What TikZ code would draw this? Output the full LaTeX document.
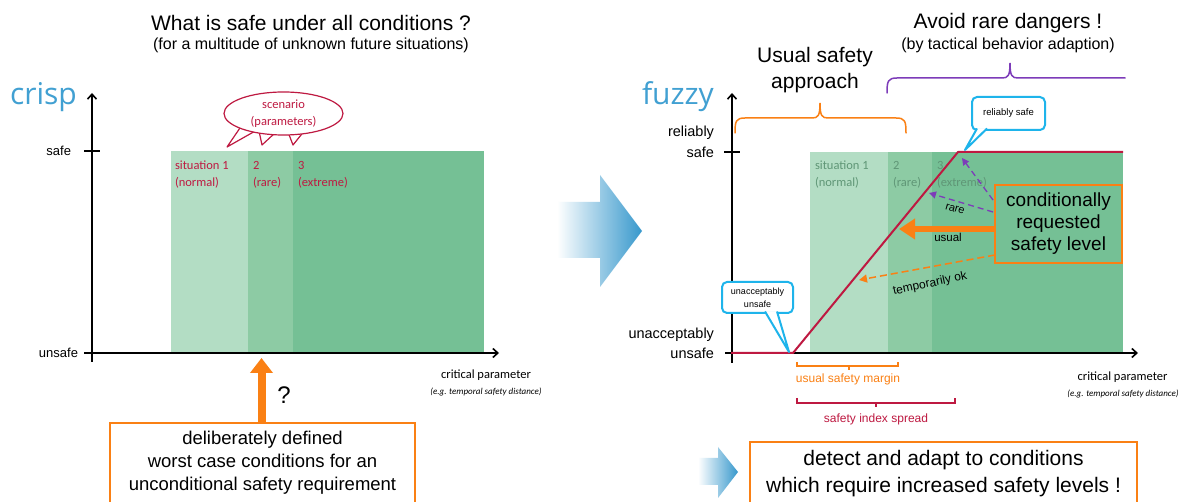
\documentclass[tikz,border=0pt]{standalone}
\usepackage{fontspec}
\setmainfont{Liberation Sans}
\newfontfamily\carlito{Carlito}
\newfontfamily\opensans{Open Sans}
\usetikzlibrary{arrows.meta,shapes.geometric}
\definecolor{lgreen}{RGB}{179,221,196}
\definecolor{mgreen}{RGB}{141,203,164}
\definecolor{dgreen}{RGB}{117,192,149}
\definecolor{crim}{RGB}{190,25,65}
\definecolor{org}{RGB}{250,128,20}
\definecolor{cyanb}{RGB}{30,180,235}
\definecolor{purp}{RGB}{125,60,185}
\definecolor{titleblue}{RGB}{65,160,210}
\definecolor{arrowblue}{RGB}{55,152,204}
\definecolor{gtext}{RGB}{95,150,118}
\tikzset{
  every node/.style={inner sep=0pt, outer sep=0pt},
  sitlab/.style={font=\carlito\fontsize{12.5}{14}\selectfont, anchor=west},
  ylab/.style={font=\fontsize{13}{15}\selectfont, anchor=east},
  ylabr/.style={font=\fontsize{14.5}{17}\selectfont, anchor=east},
  axisline/.style={line width=1.6, -{Straight Barb[length=5pt,width=9pt]}},
  tickline/.style={line width=1.6},
  bigtitle/.style={font=\fontsize{21}{25}\selectfont},
  subtitle/.style={font=\fontsize{16}{19}\selectfont},
  cpar/.style={font=\carlito\fontsize{12.5}{14}\selectfont},
  cparsub/.style={font=\carlito\itshape\fontsize{9}{11}\selectfont},
  callout/.style={draw=cyanb, line width=2, fill=white, rounded corners=5pt, align=center},
  tipline/.style={draw=cyanb, line width=2, fill=white, line join=round},
  purpdash/.style={purp, line width=1.3, dash pattern=on 6pt off 4pt, -{Triangle[length=7pt,width=7pt]}},
  orgdash/.style={org, line width=1.5, dash pattern=on 7pt off 4pt, -{Triangle[length=8pt,width=8pt]}},
  thickorg/.style={org, line width=6, -{Triangle[length=16pt,width=20pt]}},
  orgbox/.style={draw=org, line width=2.8, align=center},
  bracefrm/.style={line width=1.5, line cap=round},
}
\begin{document}
\begin{tikzpicture}[x=1pt,y=-1pt]
\useasboundingbox (0,0) rectangle (1184,502);
\fill[white] (0,0) rectangle (1184,502);

% ===================== LEFT PANEL =====================
\node[bigtitle] (t1) at (311,23) {What is safe under all conditions ?};
\node[subtitle] (t1s) at (311,45) {(for a multitude of unknown future situations)};

\node[font=\opensans\fontsize{30}{30}\selectfont, text=titleblue, anchor=base west] (crisp) at (10,105) {crisp};

\fill[lgreen] (171,151) rectangle (248,353);
\fill[mgreen] (248,151) rectangle (293,353);
\fill[dgreen] (293,151) rectangle (484,353);

\node[sitlab, text=crim] (ls1) at (175,165) {situation 1};
\node[sitlab, text=crim] (ls1b) at (175,183) {(normal)};
\node[sitlab, text=crim] (ls2) at (253,165) {2};
\node[sitlab, text=crim] (ls2b) at (253,183) {(rare)};
\node[sitlab, text=crim] (ls3) at (298,165) {3};
\node[sitlab, text=crim] (ls3b) at (298,183) {(extreme)};

% axes
\coordinate (lyb) at (92,362);
\coordinate (lyt) at (92,93);
\coordinate (lxb) at (84,353);
\coordinate (lxt) at (499,353);
\coordinate (ltk1) at (84,151);
\coordinate (ltk2) at (100,151);
\draw[axisline] (lyb) -- (lyt);
\draw[axisline] (lxb) -- (lxt);
\draw[tickline] (ltk1) -- (ltk2);
\node[ylab] (lsafe) at (71,151) {safe};
\node[ylab] (lunsafe) at (78,353) {unsafe};

% scenario callout
\filldraw[crim, fill=white, line width=1.2, line join=round] (242,125) -- (227,147) -- (257,130);
\filldraw[crim, fill=white, line width=1.2, line join=round] (259,131) -- (262,145) -- (276,132);
\filldraw[crim, fill=white, line width=1.2, line join=round] (288,132) -- (293,145) -- (305,130);
\node[draw=crim, ellipse, fill=white, line width=1.2, minimum width=119, minimum height=43] (scen) at (283.5,113.5) {};
\node[font=\carlito\fontsize{12.5}{17}\selectfont, text=crim, align=center] (scentxt) at (283.5,113.5) {scenario\\(parameters)};

\node[cpar] (lcp) at (486,375) {critical parameter};
\node[cparsub] (lcps) at (486,392) {(e.g. temporal safety distance)};

% question box
\node[orgbox, fill=white, minimum width=305, minimum height=80, anchor=north,
      font=\fontsize{18.5}{23}\selectfont] (lbox) at (262.5,423)
      {deliberately defined\\worst case conditions for an\\unconditional safety requirement};
\coordinate (qa) at (261.5,358);
\draw[org, line width=8, -{Triangle[length=15pt,width=22pt]}] (lbox.north -| qa) -- (qa);
\node[font=\fontsize{24}{26}\selectfont] (qm) at (284,395) {?};

% ===================== MIDDLE ARROW =====================
\shade[left color=white, middle color=arrowblue!65, right color=arrowblue]
  (557,202) -- (600,202) -- (600,175) -- (642,231) -- (600,287) -- (600,258) -- (557,258) -- cycle;

% ===================== RIGHT PANEL =====================
\node[bigtitle] (t2) at (1008,23) {Avoid rare dangers !};
\node[subtitle] (t2s) at (1008,45) {(by tactical behavior adaption)};
\node[font=\fontsize{21}{26}\selectfont, align=center] (usa) at (815,70) {Usual safety\\approach};

\node[font=\opensans\fontsize{30}{30}\selectfont, text=titleblue, anchor=base west] (fuzzy) at (642,105) {fuzzy};

% braces
\draw[org, bracefrm] (735,133) .. controls (735,121) and (736,118) .. (745,118) -- (812,118)
  .. controls (818,118) and (820,116) .. (820,103)
  .. controls (820,116) and (822,118) .. (828,118) -- (896,118)
  .. controls (905,118) and (906,121) .. (906,133);
\draw[purp, bracefrm] (887,93) .. controls (887,81) and (888,78) .. (897,78) -- (1002,78)
  .. controls (1008,78) and (1010,76) .. (1010,63)
  .. controls (1010,76) and (1012,78) .. (1018,78) -- (1125,78);

% green
\fill[lgreen] (810,152) rectangle (888,353);
\fill[mgreen] (888,152) rectangle (932,353);
\fill[dgreen] (932,152) rectangle (1123,353);

\node[sitlab, text=gtext] (rs1) at (815,165) {situation 1};
\node[sitlab, text=gtext] (rs1b) at (815,183) {(normal)};
\node[sitlab, text=gtext] (rs2) at (893,165) {2};
\node[sitlab, text=gtext] (rs2b) at (893,183) {(rare)};
\node[sitlab, text=gtext] (rs3) at (937,165) {3};
\node[sitlab, text=gtext] (rs3b) at (937,183) {(extreme)};

% axes
\coordinate (ryb) at (732,363);
\coordinate (ryt) at (732,93);
\coordinate (rxb) at (725,353);
\coordinate (rxt) at (1138,353);
\coordinate (rtk1) at (724,152);
\coordinate (rtk2) at (740,152);

% red curve
\coordinate (rc0) at (731,353);
\coordinate (rc1) at (793,353);
\coordinate (rc2) at (958,152);
\coordinate (rc3) at (1123,152);
\draw[axisline] (ryb) -- (ryt);
\draw[axisline] (rxb) -- (rxt);
\draw[tickline] (rtk1) -- (rtk2);
\draw[crim, line width=2, line join=round] (rc0) -- (rc1) -- (rc2) -- (rc3);

\node[ylabr] (rrel) at (714,133) {reliably};
\node[ylabr] (rsafe) at (714,152) {safe};
\node[ylabr] (runa) at (714,335) {unacceptably};
\node[ylabr] (runs) at (714,353) {unsafe};

% callouts
\node[callout, minimum width=73, minimum height=33, font=\fontsize{9.5}{12}\selectfont] (crel) at (1008.5,113.5) {reliably safe};
\filldraw[tipline] (977,128.5) -- (965,150) -- (987,128.5);
\node[callout, minimum width=71, minimum height=31, font=\fontsize{9}{13}\selectfont] (cuna) at (757.5,297.5) {unacceptably\\unsafe};
\filldraw[tipline] (765,311.5) -- (789,352) -- (777,311.5);

% conditionally requested box
\node[orgbox, fill=dgreen, minimum width=127, minimum height=78, font=\fontsize{19}{22}\selectfont] (cbox) at (1058.5,224) {conditionally\\requested\\safety level};

\coordinate (p1s) at (993,200);
\coordinate (p1e) at (962,158);
\coordinate (p2s) at (993,212);
\coordinate (p2e) at (929,193);
\coordinate (us) at (995,229);
\coordinate (ue) at (899,229);
\coordinate (ts) at (995,255);
\coordinate (te) at (859,280);
\draw[purpdash] (p1s) -- (p1e);
\draw[purpdash] (p2s) -- (p2e);
\draw[thickorg] (us) -- (ue);
\draw[orgdash] (ts) -- (te);
\node[font=\fontsize{11}{13}\selectfont, rotate=-16] (lrare) at (955,209) {rare};
\node[font=\fontsize{11.5}{13}\selectfont] (lusual) at (948,237) {usual};
\node[font=\fontsize{12}{14}\selectfont, rotate=12] (ltemp) at (930,284) {temporarily ok};

% brackets below axis
\draw[org, line width=1.3] (797,362) -- (797,366) -- (898,366) -- (898,362);
\draw[org, line width=1.3] (849,366) -- (849,370);
\node[font=\fontsize{12}{14}\selectfont, text=org] (usm) at (848,379) {usual safety margin};
\draw[crim, line width=1.3] (797,398) -- (797,403) -- (955,403) -- (955,398);
\draw[crim, line width=1.3] (876,403) -- (876,407);
\node[font=\fontsize{12}{14}\selectfont, text=crim] (sis) at (876,419) {safety index spread};

\node[cpar] (rcp) at (1122.5,377) {critical parameter};
\node[cparsub] (rcps) at (1123,394) {(e.g. temporal safety distance)};

% bottom right
\shade[left color=white, middle color=arrowblue!65, right color=arrowblue]
  (698,458) -- (718,458) -- (718,447) -- (738,472) -- (718,498) -- (718,485) -- (698,485) -- cycle;
\node[orgbox, fill=white, minimum width=387, minimum height=63, anchor=north, font=\fontsize{21}{27}\selectfont] (rbox) at (943.5,442)
  {detect and adapt to conditions\\which require increased safety levels !};
\end{tikzpicture}
\end{document}
